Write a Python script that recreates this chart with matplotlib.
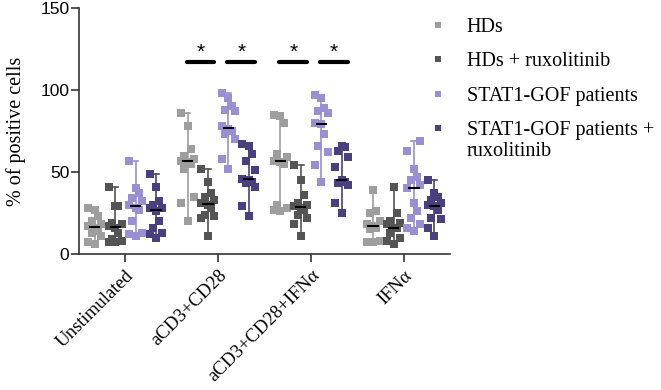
import numpy as np
import matplotlib
matplotlib.use("Agg")
import matplotlib.pyplot as plt

plt.rcParams['font.family'] = ['Liberation Serif', 'DejaVu Serif']

conditions = ["Unstimulated", "aCD3+CD28", "aCD3+CD28+IFN\u03b1", "IFN\u03b1"]
series_names = ["HDs", "HDs + ruxolitinib", "STAT1-GOF patients",
                "STAT1-GOF patients +"]
last_label_tail = "ruxolitinib"
colors = ["#9e9e9e", "#545454", "#9b8fd3", "#4a4080"]

# values read per condition
hds = [
    [28, 27, 23, 20, 18, 17, 16, 14, 13, 11, 7, 6],
    [86, 78, 64, 60, 58, 57, 56, 55, 52, 35, 31, 20],
    [85, 84, 80, 61, 59, 57, 56, 55, 30, 28, 27, 26],
    [39, 26, 25, 20, 18, 17, 16, 15, 8, 7, 7],
]
hds_rux = [
    [41, 29, 29, 19, 18, 17, 16, 13, 9, 8, 7, 7],
    [52, 44, 37, 35, 33, 31, 30, 28, 24, 23, 22, 11],
    [54, 45, 36, 31, 30, 29, 28, 27, 24, 22, 18, 11],
    [41, 25, 20, 19, 18, 16, 16, 13, 10, 8, 6],
]
stat1 = [
    [57, 40, 37, 34, 32, 30, 28, 27, 20, 13, 12, 11],
    [98, 95, 90, 88, 87, 78, 76, 75, 73, 70, 58, 52],
    [97, 95, 89, 87, 86, 80, 79, 73, 66, 62, 54, 44],
    [69, 63, 52, 47, 45, 42, 40, 31, 26, 22, 18, 16, 14],
]
stat1_rux = [
    [49, 41, 32, 30, 28, 28, 26, 20, 16, 13, 12, 10],
    [67, 66, 61, 57, 51, 46, 45, 44, 43, 41, 29, 23],
    [66, 65, 63, 59, 53, 45, 44, 43, 42, 31, 25],
    [45, 37, 35, 33, 31, 30, 29, 27, 22, 21, 16, 11],
]
all_series = [hds, hds_rux, stat1, stat1_rux]

# significance brackets: (condition, series a, series b)
sig_pairs = [(1, 0, 1), (1, 2, 3), (2, 0, 1), (2, 2, 3)]
sig_y = 117

offsets = [-0.33, -0.11, 0.11, 0.33]
jit = [0, -0.07, 0.07, -0.035, 0.035]

fig = plt.figure(figsize=(6.61, 3.90), dpi=100)
ax = fig.add_axes([0.1195, 0.349, 0.5615, 0.63])

for s, data in enumerate(all_series):
    for c, vals in enumerate(data):
        vals = np.array(vals, dtype=float)
        xc = c + offsets[s]
        order = np.argsort(vals)
        xs = np.zeros(len(vals))
        for k, idx in enumerate(order):
            xs[idx] = xc + jit[k % len(jit)]
        ax.plot([xc, xc], [vals.min(), vals.max()], color=colors[s], lw=1.2, zorder=1)
        ax.plot([xc - 0.03, xc + 0.03], [vals.max()] * 2, color=colors[s], lw=1.2, zorder=1)
        ax.plot([xc - 0.03, xc + 0.03], [vals.min()] * 2, color=colors[s], lw=1.2, zorder=1)
        ax.plot(xs, vals, 's', color=colors[s], ms=5.5, mew=0, zorder=2,
                label=series_names[s] if c == 0 else None)
        ax.plot([xc - 0.05, xc + 0.05], [np.median(vals)] * 2, color='black', lw=1.5, zorder=3)

for c, a, b in sig_pairs:
    x1 = c + offsets[a] - 0.01
    x2 = c + offsets[b] + 0.07
    ax.plot([x1, x2], [sig_y, sig_y], color='black', lw=3, solid_capstyle='round')
    ax.text((x1 + x2) / 2, sig_y + 6, '*', ha='center', va='center', fontsize=15,
            family=['Liberation Sans'])

ax.set_xlim(-0.5, 3.5)
ax.set_ylim(0, 150)
ax.set_yticks([0, 50, 100, 150])
ax.set_yticklabels(['0', '50', '100', '150'], family=['Liberation Sans'], fontsize=12.5)
ax.set_xticks(range(len(conditions)))
ax.set_xticklabels(conditions, rotation=45, ha='right', rotation_mode='anchor', fontsize=13.5)
ax.set_ylabel('% of positive cells', fontsize=14.5, labelpad=10)
for side in ['top', 'right']:
    ax.spines[side].set_visible(False)
for side in ['left', 'bottom']:
    ax.spines[side].set_color('#333333')
    ax.spines[side].set_linewidth(1.2)
ax.tick_params(axis='both', length=6, width=1.2, color='#333333')
ax.tick_params(axis='y', pad=1)

leg = fig.legend(loc='upper left', bbox_to_anchor=(0.627, 1.0), frameon=False,
                 fontsize=14.5, handlelength=0.5, handletextpad=1.2, labelspacing=0.75,
                 markerscale=0.85)

# second line of the last legend entry, set under its first line
fig.canvas.draw()
bb = leg.get_texts()[-1].get_window_extent()
W, H = fig.canvas.get_width_height()
fig.text(bb.x0 / W, (bb.y0 - 2) / H, last_label_tail, fontsize=14.5, ha='left', va='top')

fig.savefig('out.png', dpi=100)
